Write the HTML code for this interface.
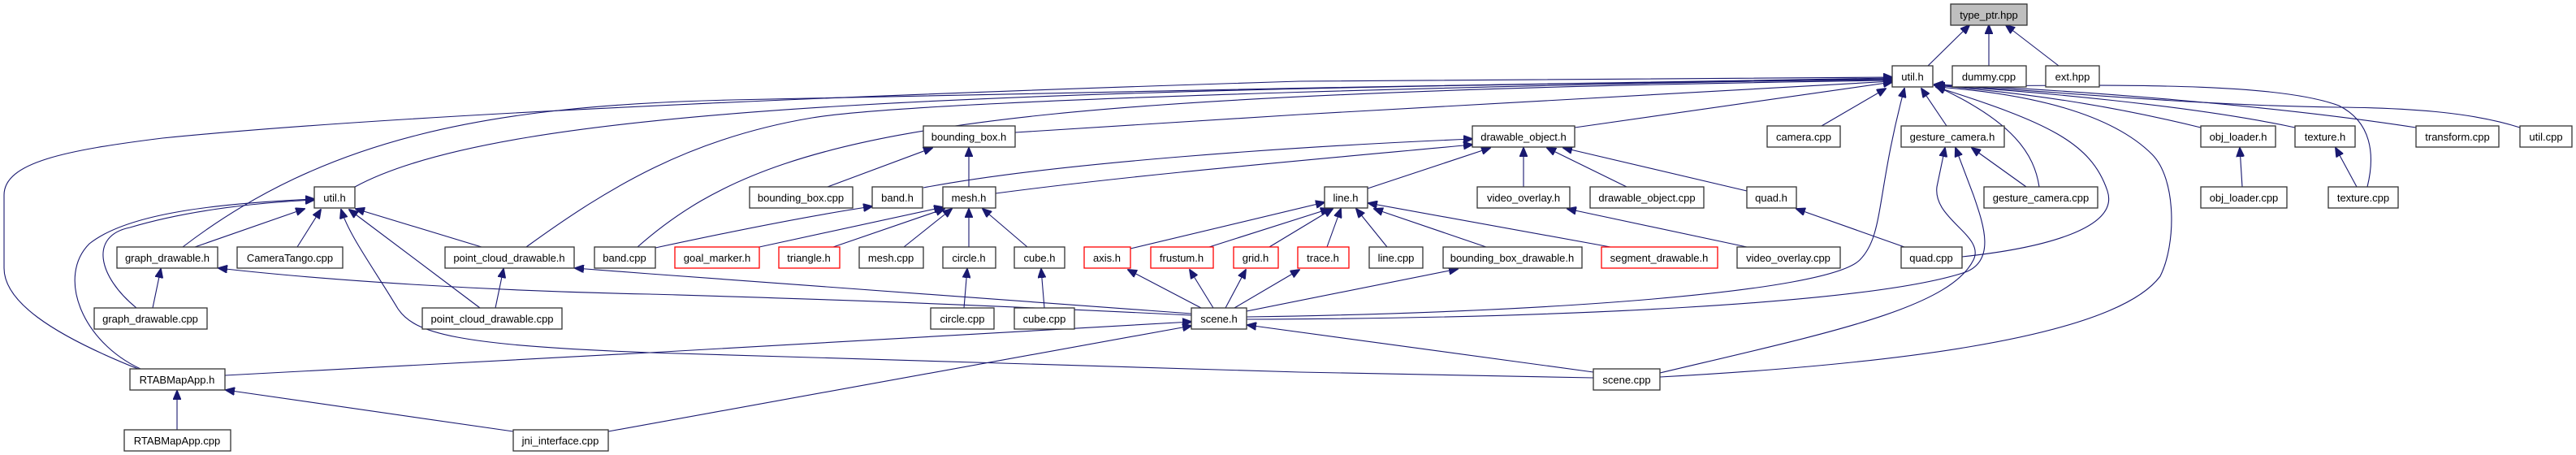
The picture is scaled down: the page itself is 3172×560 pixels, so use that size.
<!DOCTYPE html>
<html><head><meta charset="utf-8"><style>
html,body{margin:0;padding:0;background:#fff;}
svg{display:block}
text{font-family:"Liberation Sans",sans-serif;font-size:13px;text-anchor:middle;fill:#000}
.n{fill:#fff;stroke:#333;stroke-width:1.3}
.r{fill:#fff;stroke:#f00;stroke-width:1.3}
.e{fill:none;stroke:#191970;stroke-width:1.1;marker-end:url(#a)}
</style></head><body>
<svg width="3172" height="560" viewBox="0 0 3172 560" xmlns="http://www.w3.org/2000/svg">
<defs><marker id="a" markerUnits="userSpaceOnUse" markerWidth="12" markerHeight="10" refX="11" refY="5" orient="auto"><path d="M0,0 L12,5 L0,10 z" fill="#191970" stroke="#191970"/></marker></defs>
<g>
<!-- to type_ptr -->
<path class="e" d="M2374,81 L2425,31"/>
<path class="e" d="M2449,81 L2449,31"/>
<path class="e" d="M2535,81 L2470,31"/>
<!-- to util main -->
<path class="e" d="M437,230 C620,130 1200,110 2330,98"/>
<path class="e" d="M225,304 C400,170 600,130 900,123 S2000,100 2330,96"/>
<path class="e" d="M648,304 C750,230 850,170 1000,145 S2000,102 2330,97"/>
<path class="e" d="M785,304 C880,220 1000,170 1300,140 S2100,102 2330,99"/>
<path class="e" d="M170,454 C60,410 5,370 5,330 L5,240 C5,200 80,185 200,170 C400,150 800,125 1600,100 L2330,95"/>
<path class="e" d="M1250,163 L1600,141 L2330,100"/>
<path class="e" d="M1939,157 L2330,101"/>
<path class="e" d="M2243,155 L2322,109"/>
<path class="e" d="M2397,155 L2366,109"/>
<path class="e" d="M2511,230 C2505,190 2480,150 2384,106"/>
<path class="e" d="M2710,157 C2600,130 2500,115 2382,105"/>
<path class="e" d="M2826,157 C2700,130 2500,112 2382,105"/>
<path class="e" d="M2975,157 C2800,130 2550,110 2382,104"/>
<path class="e" d="M3103,157 C3050,140 2980,133 2880,132 C2700,130 2500,110 2382,104"/>
<path class="e" d="M2915,230 C2925,190 2920,150 2880,130 C2800,100 2600,105 2384,106"/>
<path class="e" d="M2416,316 C2520,305 2610,280 2595,235 C2575,175 2520,150 2384,107"/>
<path class="e" d="M1535,390 C1900,385 2250,360 2290,320 C2320,290 2310,240 2345,109"/>
<path class="e" d="M2044,464 C2300,450 2600,420 2660,340 C2680,300 2680,220 2650,190 C2600,140 2500,115 2384,107"/>
<!-- to util left -->
<path class="e" d="M240,304 L375,257"/>
<path class="e" d="M366,304 L395,258"/>
<path class="e" d="M593,304 L438,257"/>
<path class="e" d="M591,379 L430,258"/>
<path class="e" d="M168,379 C120,340 110,290 160,280 C220,262 300,250 387,246"/>
<path class="e" d="M173,454 C100,420 70,340 110,300 C160,260 280,250 387,245"/>
<path class="e" d="M1962,465 L1600,458 L800,434 C560,425 510,410 490,380 C460,330 430,290 420,258"/>
<!-- graph / pcd -->
<path class="e" d="M188,379 L198,331"/>
<path class="e" d="M1467,388 C1100,370 900,365 800,362 C600,358 400,345 269,330"/>
<path class="e" d="M610,379 L620,331"/>
<path class="e" d="M1467,386 L800,337 L708,330"/>
<!-- RTABMapApp -->
<path class="e" d="M218,529 L218,481"/>
<path class="e" d="M632,531 L278,480"/>
<path class="e" d="M277,462 L800,434 L1467,396"/>
<path class="e" d="M749,531 L1467,401"/>
<!-- bounding box / mesh -->
<path class="e" d="M1019,230 L1148,182"/>
<path class="e" d="M1193,230 L1193,182"/>
<path class="e" d="M807,305 C900,285 1000,265 1074,254"/>
<path class="e" d="M1137,231 C1300,200 1600,180 1813,171"/>
<path class="e" d="M1226,238 C1400,215 1600,198 1813,178"/>
<path class="e" d="M935,304 L1161,255"/>
<path class="e" d="M1026,304 L1163,257"/>
<path class="e" d="M1113,304 L1172,257"/>
<path class="e" d="M1193,304 L1193,257"/>
<path class="e" d="M1265,304 L1210,257"/>
<path class="e" d="M1187,379 L1191,331"/>
<path class="e" d="M1286,379 L1282,331"/>
<!-- line.h -->
<path class="e" d="M1392,306 L1631,249"/>
<path class="e" d="M1489,304 L1637,257"/>
<path class="e" d="M1563,304 L1641,257"/>
<path class="e" d="M1634,304 L1651,257"/>
<path class="e" d="M1708,304 L1670,257"/>
<path class="e" d="M1830,304 L1692,257"/>
<path class="e" d="M1983,304 L1685,250"/>
<!-- scene.h to red nodes -->
<path class="e" d="M1479,379 L1389,332"/>
<path class="e" d="M1494,379 L1465,332"/>
<path class="e" d="M1509,379 L1534,332"/>
<path class="e" d="M1520,379 L1600,332"/>
<path class="e" d="M1535,383 L1795,331"/>
<!-- drawable_object -->
<path class="e" d="M1684,232 L1835,182"/>
<path class="e" d="M1876,230 L1876,182"/>
<path class="e" d="M2003,230 L1905,182"/>
<path class="e" d="M2151,235 L1925,182"/>
<path class="e" d="M2151,304 L1930,257"/>
<path class="e" d="M2345,304 L2212,257"/>
<path class="e" d="M2495,230 L2428,182"/>
<path class="e" d="M1535,393 C1900,392 2300,375 2420,335 C2460,320 2440,270 2430,240 L2408,182"/>
<path class="e" d="M2044,459 C2250,410 2400,380 2430,320 C2445,290 2380,270 2385,230 L2395,182"/>
<path class="e" d="M1962,458 L1536,400"/>
<path class="e" d="M2761,230 L2758,182"/>
<path class="e" d="M2902,230 L2876,182"/>
</g>
<g>
<rect x="2402" y="5" width="94" height="26" fill="#bfbfbf" stroke="#333" stroke-width="1.3"/><text x="2449" y="23">type_ptr.hpp</text>
<rect class="n" x="2330" y="81" width="50" height="26"/><text x="2355" y="99">util.h</text>
<rect class="n" x="2404" y="81" width="91" height="26"/><text x="2449" y="99">dummy.cpp</text>
<rect class="n" x="2519" y="81" width="66" height="26"/><text x="2552" y="99">ext.hpp</text>

<rect class="n" x="1137" y="155" width="113" height="26"/><text x="1193" y="173">bounding_box.h</text>
<rect class="n" x="1813" y="155" width="126" height="26"/><text x="1876" y="173">drawable_object.h</text>
<rect class="n" x="2176" y="155" width="90" height="26"/><text x="2221" y="173">camera.cpp</text>
<rect class="n" x="2341" y="155" width="127" height="26"/><text x="2404" y="173">gesture_camera.h</text>
<rect class="n" x="2710" y="155" width="92" height="26"/><text x="2756" y="173">obj_loader.h</text>
<rect class="n" x="2826" y="155" width="74" height="26"/><text x="2863" y="173">texture.h</text>
<rect class="n" x="2975" y="155" width="102" height="26"/><text x="3026" y="173">transform.cpp</text>
<rect class="n" x="3103" y="155" width="64" height="26"/><text x="3135" y="173">util.cpp</text>

<rect class="n" x="387" y="230" width="50" height="26"/><text x="412" y="248">util.h</text>
<rect class="n" x="923" y="230" width="127" height="26"/><text x="986" y="248">bounding_box.cpp</text>
<rect class="n" x="1074" y="230" width="62" height="26"/><text x="1105" y="248">band.h</text>
<rect class="n" x="1161" y="230" width="65" height="26"/><text x="1193" y="248">mesh.h</text>
<rect class="n" x="1631" y="230" width="53" height="26"/><text x="1657" y="248">line.h</text>
<rect class="n" x="1819" y="230" width="114" height="26"/><text x="1876" y="248">video_overlay.h</text>
<rect class="n" x="1958" y="230" width="140" height="26"/><text x="2028" y="248">drawable_object.cpp</text>
<rect class="n" x="2151" y="230" width="61" height="26"/><text x="2181" y="248">quad.h</text>
<rect class="n" x="2443" y="230" width="140" height="26"/><text x="2513" y="248">gesture_camera.cpp</text>
<rect class="n" x="2710" y="230" width="106" height="26"/><text x="2763" y="248">obj_loader.cpp</text>
<rect class="n" x="2867" y="230" width="86" height="26"/><text x="2910" y="248">texture.cpp</text>

<rect class="n" x="144" y="304" width="124" height="26"/><text x="206" y="322">graph_drawable.h</text>
<rect class="n" x="292" y="304" width="130" height="26"/><text x="357" y="322">CameraTango.cpp</text>
<rect class="n" x="548" y="304" width="159" height="26"/><text x="627" y="322">point_cloud_drawable.h</text>
<rect class="n" x="732" y="304" width="75" height="26"/><text x="769" y="322">band.cpp</text>
<rect class="r" x="831" y="304" width="104" height="26"/><text x="883" y="322">goal_marker.h</text>
<rect class="r" x="959" y="304" width="75" height="26"/><text x="996" y="322">triangle.h</text>
<rect class="n" x="1058" y="304" width="79" height="26"/><text x="1097" y="322">mesh.cpp</text>
<rect class="n" x="1161" y="304" width="65" height="26"/><text x="1193" y="322">circle.h</text>
<rect class="n" x="1249" y="304" width="62" height="26"/><text x="1280" y="322">cube.h</text>
<rect class="r" x="1335" y="304" width="57" height="26"/><text x="1363" y="322">axis.h</text>
<rect class="r" x="1417" y="304" width="77" height="26"/><text x="1455" y="322">frustum.h</text>
<rect class="r" x="1519" y="304" width="55" height="26"/><text x="1546" y="322">grid.h</text>
<rect class="r" x="1598" y="304" width="63" height="26"/><text x="1629" y="322">trace.h</text>
<rect class="n" x="1686" y="304" width="66" height="26"/><text x="1719" y="322">line.cpp</text>
<rect class="n" x="1777" y="304" width="171" height="26"/><text x="1862" y="322">bounding_box_drawable.h</text>
<rect class="r" x="1972" y="304" width="143" height="26"/><text x="2043" y="322">segment_drawable.h</text>
<rect class="n" x="2139" y="304" width="127" height="26"/><text x="2202" y="322">video_overlay.cpp</text>
<rect class="n" x="2341" y="304" width="75" height="26"/><text x="2378" y="322">quad.cpp</text>

<rect class="n" x="116" y="379" width="139" height="26"/><text x="185" y="397">graph_drawable.cpp</text>
<rect class="n" x="520" y="379" width="172" height="26"/><text x="606" y="397">point_cloud_drawable.cpp</text>
<rect class="n" x="1146" y="379" width="78" height="26"/><text x="1185" y="397">circle.cpp</text>
<rect class="n" x="1249" y="379" width="74" height="26"/><text x="1286" y="397">cube.cpp</text>
<rect class="n" x="1467" y="379" width="68" height="26"/><text x="1501" y="397">scene.h</text>

<rect class="n" x="160" y="454" width="117" height="26"/><text x="218" y="472">RTABMapApp.h</text>
<rect class="n" x="1962" y="454" width="82" height="26"/><text x="2003" y="472">scene.cpp</text>

<rect class="n" x="153" y="529" width="131" height="26"/><text x="218" y="547">RTABMapApp.cpp</text>
<rect class="n" x="632" y="529" width="117" height="26"/><text x="690" y="547">jni_interface.cpp</text>
</g>
</svg>
</body></html>
